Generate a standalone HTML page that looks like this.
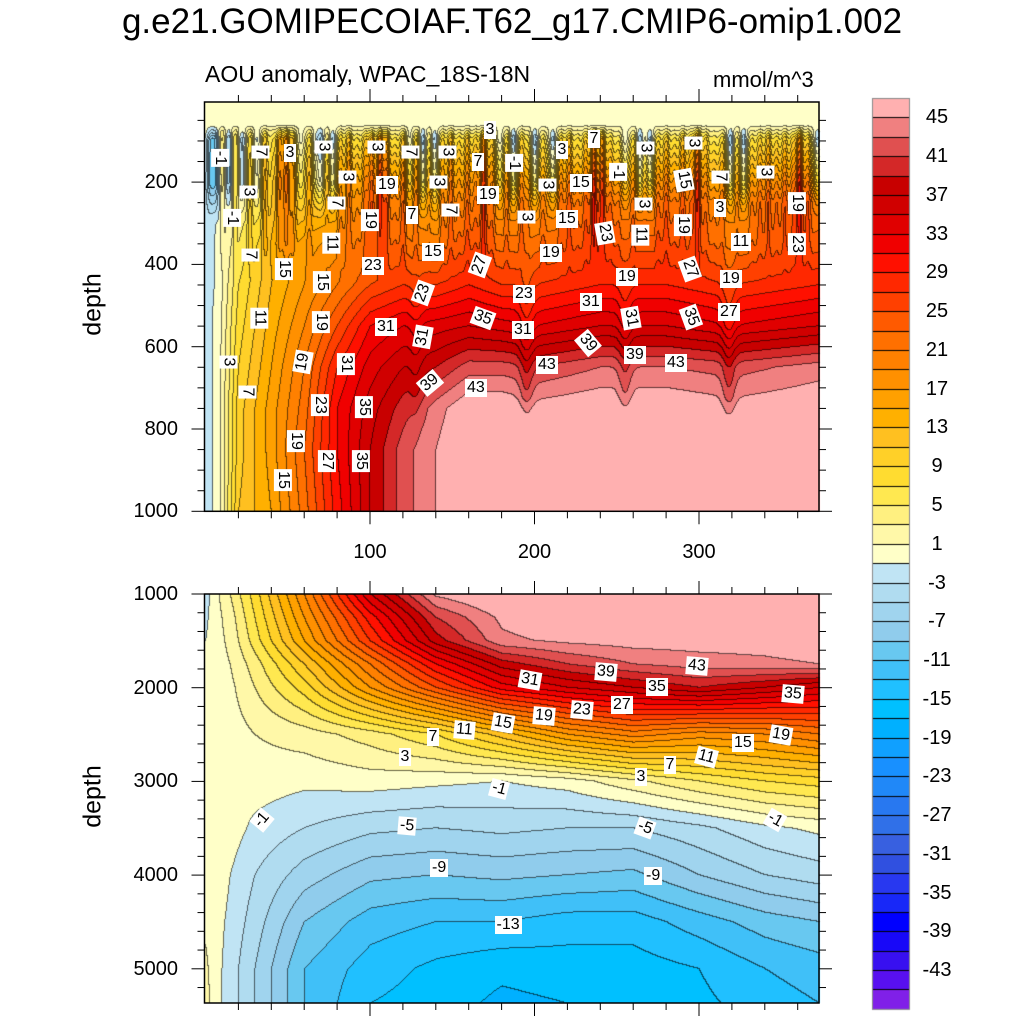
<!DOCTYPE html>
<html><head><meta charset="utf-8">
<style>
html,body{margin:0;padding:0;background:#fff;}
body{width:1024px;height:1024px;position:relative;overflow:hidden;font-family:"Liberation Sans",sans-serif;color:#000;}
.abs{position:absolute;}
.lbl{position:absolute;background:#fff;font-size:16px;line-height:16px;padding:1px 2px;transform-origin:center;white-space:nowrap;}
.tk{position:absolute;font-size:20px;line-height:20px;}
</style></head>
<body>
<div class="abs" style="left:0;width:1024px;top:2px;text-align:center;font-size:35px;">g.e21.GOMIPECOIAF.T62_g17.CMIP6-omip1.002</div>
<div class="abs" style="left:205px;top:61px;font-size:23px;">AOU anomaly, WPAC_18S-18N</div>
<div class="abs" style="left:713px;top:67px;font-size:22px;">mmol/m^3</div>
<div class="abs" style="left:43px;top:290px;width:100px;text-align:center;font-size:25px;transform:rotate(-90deg);">depth</div>
<div class="abs" style="left:43px;top:782px;width:100px;text-align:center;font-size:25px;transform:rotate(-90deg);">depth</div>
<canvas id="cv" width="1024" height="1024" class="abs" style="left:0;top:0"></canvas>
<svg id="ax" class="abs" width="1024" height="1024" style="left:0;top:0"></svg>
<div id="labels"></div>
<script>
// ---- data ----
const topX=[0,8,20,40,60,80,100,120,140,160,180,200,240,280,320,373];
const topDepth=[5,60,80,150,250,350,450,550,650,750,850,1000];
const topVals=[
[0,0,0,0,0,0,0,0,0,0,0,0,0,0,0,0],
[0,0,0,0,0,0,0,0,0,0,0,0,0,0,0,0],
[0,2,2,2,2,2,2,2,2,2,2,2,2,2,2,2],
[-1,0,3,5,7,8,9,9,8,9,9,8,9,9,8,10],
[-2,-1,3,8,11,13,17,17,15,17,17,17,19,19,17,21],
[-2,-0.5,5,12,16,18,21,22,20,23,22,22,24,24,21,24],
[-2,-0.5,7,13,17,21,25,27,27,29,27,27,29,29,27,29],
[-2,0,8,14,19,25,31,33,34,35,34,33,35,35,33,35],
[-2,0,9,15,21,29,34,37,39,42,42,41,43,43,42,44],
[-2,0,10,16,22,31,36,40,44,47,47,46,47,47,46,47],
[-2,0,10,16,23,31,37,42,45,48,48,48,48,48,48,48],
[-2,0,11,15,22,30,37,42,45,48,48,48,48,48,48,48]];
const streakX=[3,6,10,14,18,22,27,31,36,41,45,49,53,58,63,67,70,74,77,82,87,92,97,101,106,110,115,120,124,128,132,136,139,144,149,154,159,164,169,174,179,183,187,192,196,200,205,211,216,221,226,231,236,241,246,251,255,260,264,270,275,280,285,290,295,299,304,309,314,319,323,327,332,337,342,347,352,357,361,366,372];
const streakVal=[-8,-8,4,-7,5,-6,6,-4,8,4,12,14,8,-3,5,-4,-8,3,-7,6,9,4,7,10,14,10,4,8,-3,6,-8,3,-7,6,9,5,8,6,14,6,-4,5,-8,6,3,-8,4,-7,6,8,4,7,14,12,5,3,-4,4,-8,-7,5,7,4,8,6,14,6,3,5,-8,3,-8,4,6,8,5,7,6,14,6,-7];
const dipX=[128,195,255,318];
const dipVal=[-1.5,-3,-2.5,-3];
const botX=[0,5,15,30,60,100,140,180,220,260,300,340,373];
const botDepth=[1000,1250,1500,1750,2000,2500,3000,3500,4000,4500,5000,5370];
const botVals=[
[-2,0,3,8,19,35,45.5,48,48,48,48,48,48],
[-1.5,0,2,7,17,30,41,45.5,47,48,48,48,48],
[-1,0,1.5,6,15,27,38,44.5,45.5,46,46,46,46.5],
[-0.5,0,1,4,11,21,31,38,41,43,44,44.5,45],
[0,0,0.5,3,8,17,25,32,35,37,39,37,35],
[0,0,0,1,2,4,7,12,17,20,18,19,21],
[0,0,0,0,-0.5,0,-0.5,-1,0,2.5,5,7,8],
[0.5,0.5,0,-1.5,-3,-4.5,-5,-4.5,-5,-5,-3.5,-1.5,-0.5],
[0,0.5,-1,-3,-6,-8.5,-9,-8.5,-9,-9.5,-7,-5,-4],
[0.5,0,-1.5,-4,-9,-12,-13,-13,-14,-14,-12,-10,-9],
[1.5,0,-2,-5,-11,-14,-15.5,-16.5,-16,-16,-15,-13,-12],
[2,0,-2,-5,-11,-15,-16,-17.5,-17,-16,-15.5,-14,-13]];
const colorbarLabels=[45,41,37,33,29,25,21,17,13,9,5,1,-3,-7,-11,-15,-19,-23,-27,-31,-35,-39,-43];
const fillColors=["#8020E8","#5810F0","#3810F0","#1808F8","#0000FF","#1828F8","#2838F0","#3050E0","#3860E0","#3070E8","#2878F0","#2088F8","#1890FF","#10A0FF","#00B0FF","#00C0FF","#20C0FF","#40C0F8","#68C8F0","#90CCEC","#A0D4EE","#B0DCF0","#C0E4F4","#FFFFC8","#FFF8A8","#FFF080","#FFE850","#FFDC30","#FFD028","#FFC020","#FFB000","#FFA000","#FF9000","#FF8000","#FF7000","#FF5A00","#FF4000","#FF2800","#FF1000","#F00000","#E00000","#D00000","#C80000","#D42828","#E05050","#F08080","#FFB0B0"];
const xTicks=[100,200,300];
const topYTicks=[200,400,600,800,1000];
const botYTicks=[1000,2000,3000,4000,5000];
const topLabels=[["-1",220,158,90],["7",260,152,90],["3",290,153,0],["3",323,147,90],["3",376,147,90],["7",410,152,90],["3",447,152,90],["7",478,162,0],["3",490,130,0],["3",248,192,90],["3",347,177,90],["19",387,185,0],["3",438,182,90],["19",488,195,0],["-1",232,218,90],["7",336,203,90],["19",370,220,90],["7",412,215,0],["7",450,210,90],["15",433,252,0],["11",331,243,90],["23",373,266,0],["7",250,255,90],["15",284,269,90],["15",322,282,90],["27",480,265,-70],["23",423,293,-70],["11",259,318,90],["19",321,322,90],["31",386,327,0],["31",423,337,-80],["35",483,318,20],["3",228,362,90],["19",303,362,-80],["31",346,364,90],["39",430,383,-40],["43",476,388,0],["7",247,392,90],["23",320,405,90],["35",364,407,90],["19",296,441,90],["27",327,461,90],["35",361,461,90],["15",283,480,90],
["7",594,139,0],["3",562,150,0],["-1",514,163,90],["15",581,183,0],["3",547,185,90],["-1",618,172,90],["3",645,148,90],["3",693,143,90],["15",684,180,80],["7",720,177,90],["3",765,172,90],["3",643,204,90],["3",720,208,0],["19",797,203,90],["3",526,217,90],["15",567,219,0],["23",605,233,80],["11",640,235,90],["19",683,225,90],["11",741,242,0],["23",797,244,90],["19",551,253,0],["19",627,277,0],["27",690,269,70],["19",731,279,0],["23",524,294,0],["31",591,302,0],["31",631,318,80],["35",691,317,70],["27",729,312,0],["31",523,330,0],["39",588,343,50],["39",635,355,0],["43",547,365,0],["43",676,363,0]];
const botLabels=[["31",530,680,10],["39",606,672,5],["43",697,666,5],["35",657,687,0],["35",793,694,5],["19",544,716,5],["23",582,710,5],["27",622,705,0],["15",503,723,10],["11",464,730,5],["7",433,737,0],["3",405,757,0],["15",743,743,0],["19",781,735,10],["11",706,757,15],["7",670,765,0],["3",641,777,0],["-1",499,789,15],["-1",262,820,-50],["-5",407,826,5],["-5",645,828,20],["-1",775,820,30],["-9",439,868,0],["-9",653,876,0],["-13",508,925,0]];

// ---- geometry ----
const L=204.5,R=819,T1=102,B1=511.3,T2=594,B2=1003;
const XMAX=(R-205.5)/1.645;
const xPix=v=>205.5+v*1.645;
const yTop=d=>99.8+d*0.4115;
const yBot=d=>594+(d-1000)*0.0937;

function seg(arr,v){let i=0;while(i<arr.length-2&&v>arr[i+1])i++;let t=(v-arr[i])/(arr[i+1]-arr[i]);t=Math.max(0,Math.min(1,t));return [i,t];}
function bilin(xs,ds,vals,x,d){const [i,t]=seg(xs,x);const [j,u]=seg(ds,d);
 const a=vals[j][i]*(1-t)+vals[j][i+1]*t, b=vals[j+1][i]*(1-t)+vals[j+1][i+1]*t;return a*(1-u)+b*u;}
function streakW(d){if(d<62)return 0;if(d<95)return (d-62)/33;if(d<200)return 1;if(d<440)return (440-d)/240;return 0;}
function dipW(d){if(d<300)return 0;if(d<500)return (d-300)/200;if(d<720)return 1;if(d<800)return (800-d)/80;return 0;}
function topField(x,d){let v=bilin(topX,topDepth,topVals,x,d);const w=streakW(d);
 if(w>0){let s=0;for(let k=0;k<streakX.length;k++){const z=(x-streakX[k])/2.2;s+=streakVal[k]*Math.exp(-z*z);}
  v+=s*w*(s<0?Math.max(0,Math.min(1,(300-d)/100)):1);}
 const dw=dipW(d);
 if(dw>0){let s=0;for(let k=0;k<dipX.length;k++){const z=(x-dipX[k])/4;s+=dipVal[k]*Math.exp(-z*z);}v+=s*dw;}
 return v;}
function botField(x,d){return bilin(botX,botDepth,botVals,x,d);}
function lev(v){let k=Math.floor((v+47)/2);return Math.max(0,Math.min(46,k));}
function hex(c){return [parseInt(c.slice(1,3),16),parseInt(c.slice(3,5),16),parseInt(c.slice(5,7),16)];}
const rgb=fillColors.map(hex);

const cv=document.getElementById('cv');const ctx=cv.getContext('2d');
function drawPanel(x0,y0,x1,y1,fn,pixToD){
 const W=Math.round(x1-x0),H=Math.round(y1-y0);const img=ctx.createImageData(W,H);
 const idx=new Int16Array(W*H);
 for(let j=0;j<H;j++){const d=pixToD(y0+j+0.5);for(let i=0;i<W;i++){const x=(x0+i+0.5-205.5)/1.645;idx[j*W+i]=lev(fn(x,d));}}
 for(let j=0;j<H;j++)for(let i=0;i<W;i++){const k=idx[j*W+i];let c=rgb[k];
  const edge=(i<W-1&&idx[j*W+i+1]!==k)||(j<H-1&&idx[(j+1)*W+i]!==k);
  const p=(j*W+i)*4;const f=edge?0.4:1;img.data[p]=c[0]*f;img.data[p+1]=c[1]*f;img.data[p+2]=c[2]*f;img.data[p+3]=255;}
 ctx.putImageData(img,Math.round(x0),Math.round(y0));}
drawPanel(L,T1,R,B1,topField,y=>(y-99.8)/0.4115);
drawPanel(L,T2,R,B2,botField,y=>1000+(y-594)/0.0937);

// colorbar
const CB_X=872,CB_W=37,CB_T=98,CB_H=19.38;
for(let k=0;k<fillColors.length;k++){
 const y=CB_T+(46-k)*CB_H;
 ctx.fillStyle=fillColors[k];ctx.fillRect(CB_X,y,CB_W,CB_H+0.5);
}
ctx.strokeStyle='#000';ctx.lineWidth=1;
for(let k=1;k<47;k++){const y=Math.round(CB_T+k*CB_H)+0.5;ctx.beginPath();ctx.moveTo(CB_X,y);ctx.lineTo(CB_X+CB_W,y);ctx.stroke();}
ctx.strokeStyle='#888';ctx.strokeRect(CB_X+0.5,CB_T+0.5,CB_W,47*CB_H);

// axes
const svg=document.getElementById('ax');const NS='http://www.w3.org/2000/svg';
function line(x1,y1,x2,y2,w){const l=document.createElementNS(NS,'line');l.setAttribute('x1',x1);l.setAttribute('y1',y1);l.setAttribute('x2',x2);l.setAttribute('y2',y2);l.setAttribute('stroke','#000');l.setAttribute('stroke-width',w||1);
 
 
 svg.appendChild(l);}
function frame(t,b,name){const r=document.createElementNS(NS,'rect');r.setAttribute('x',L);r.setAttribute('y',t);r.setAttribute('width',R-L);r.setAttribute('height',b-t);r.setAttribute('fill','none');r.setAttribute('stroke','#000');r.setAttribute('stroke-width',1.5);
 
 
 svg.appendChild(r);}
frame(T1,B1,'top-panel-frame');frame(T2,B2,'bottom-panel-frame');
function tk(txt,x,y,align,name){const d=document.createElement('div');d.className='tk';d.textContent=txt;
 
 
 if(align==='c'){d.style.left=(x-40)+'px';d.style.width='80px';d.style.textAlign='center';}
 else {d.style.left=(x-80)+'px';d.style.width='80px';d.style.textAlign='right';}
 d.style.top=(y-10)+'px';document.body.appendChild(d);}
// x ticks
for(let v=20;v<XMAX;v+=20){const x=xPix(v);const major=v%100===0;const len=major?13:7;
 line(x,T1,x,T1-len);line(x,B1,x,B1+len);line(x,T2,x,T2-len);line(x,B2,x,B2+len);}
xTicks.forEach(v=>tk(String(v),xPix(v),552,'c','x-tick-label'));
// top y ticks
for(let d=50;d<=1000;d+=50){const y=yTop(d);if(y<T1)continue;const major=d%200===0;const len=major?13:7;line(L,y,L-len,y);line(R,y,R+len,y);}
topYTicks.forEach(v=>tk(String(v),178,yTop(v),'r','y-tick-label-top'));
// bottom y ticks
for(let d=1000;d<=5370;d+=200){const y=yBot(d);const major=d%1000===0;const len=major?13:7;line(L,y,L-len,y);line(R,y,R+len,y);}
botYTicks.forEach(v=>tk(String(v),178,yBot(v),'r','y-tick-label-bottom'));
// colorbar labels
colorbarLabels.forEach(v=>{const k=(v+47)/2;const y=CB_T+(46-k)*CB_H+CB_H;const d=document.createElement('div');d.className='tk';d.textContent=String(v);
 
 
 d.style.left='917px';d.style.width='40px';d.style.textAlign='center';d.style.top=(y-10)+'px';document.body.appendChild(d);});
// contour labels
const lbBox=document.getElementById('labels');
topLabels.concat(botLabels).forEach(a=>{const d=document.createElement('div');d.className='lbl';d.textContent=a[0];
 
 
 lbBox.appendChild(d);const w=d.offsetWidth,h=d.offsetHeight;d.style.left=(a[1]-w/2)+'px';d.style.top=(a[2]-h/2)+'px';d.style.transform='rotate('+a[3]+'deg)';});
</script>
</body></html>
